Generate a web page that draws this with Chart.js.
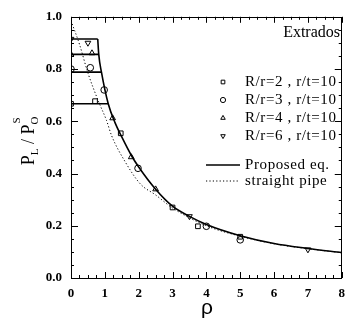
<!DOCTYPE html>
<html>
<head>
<meta charset="utf-8">
<script src="https://cdn.jsdelivr.net/npm/chart.js@4/dist/chart.umd.min.js"></script>
<style>
  html, body { margin: 0; padding: 0; background: #fff; }
  #wrap { width: 353px; height: 332px; position: relative; }
</style>
</head>
<body>
<div id="wrap"><canvas id="chart"></canvas></div>
<script>
// measured points, rho vs P_L / P_O^S
var rhoR2 = [0, 0.71, 1.47, 3.0, 3.75, 5.0];
var valR2 = [0.667, 0.677, 0.554, 0.27, 0.198, 0.158];

var rhoR3 = [0, 0.57, 0.98, 1.98, 4.0, 5.0];
var valR3 = [0.8, 0.805, 0.72, 0.42, 0.198, 0.146];

var rhoR4 = [0, 0.62, 1.23, 1.78, 2.5];
var valR4 = [0.856, 0.861, 0.612, 0.463, 0.34];

var rhoR6 = [0, 0.5, 3.5, 7.0];
var valR6 = [0.915, 0.9, 0.236, 0.109];

// proposed equation: plateaus then falling curve
var plateauLevels = [0.915, 0.856, 0.788, 0.667];
var plateauEnds = [0.79, 0.82, 0.9, 1.1];
var rhoProposed = [0.79, 0.82, 0.9, 1.1, 1.3, 1.5, 1.78, 2.0, 2.5, 3.0, 3.5, 4.0, 5.0, 6.0, 7.0, 8.0];
var valProposed = [0.915, 0.856, 0.788, 0.667, 0.595, 0.54, 0.47, 0.425, 0.34, 0.275, 0.236, 0.205, 0.162, 0.132, 0.113, 0.097];

// straight pipe
var rhoStraight = [0, 0.25, 0.5, 0.8, 1.05, 1.2, 1.6, 2.05, 2.5, 3.0, 4.0, 5.0, 6.0, 7.0, 8.0];
var valStraight = [0.985, 0.895, 0.785, 0.68, 0.603, 0.545, 0.445, 0.36, 0.318, 0.268, 0.2, 0.16, 0.131, 0.112, 0.097];

var xTicks = [0, 1, 2, 3, 4, 5, 6, 7, 8];
var yTicks = [0.0, 0.2, 0.4, 0.6, 0.8, 1.0];

var seriesLabels = ['R/r=2 , r/t=10', 'R/r=3 , r/t=10', 'R/r=4 , r/t=10', 'R/r=6 , r/t=10', 'Proposed eq.', 'straight pipe'];

function pts(xs, ys) {
  return xs.map(function (x, i) { return { x: x, y: ys[i] }; });
}

var SERIF = '"Liberation Serif", "DejaVu Serif", serif';

function marker(label, data, style, rot) {
  return {
    label: label,
    data: data,
    showLine: false,
    pointStyle: style,
    rotation: rot || 0,
    pointRadius: 3.3,
    borderColor: '#000',
    backgroundColor: 'rgba(0,0,0,0)',
    pointBorderWidth: 1,
    legendRadius: 2.6,
    order: 1
  };
}

var datasets = [
  marker(seriesLabels[0], pts(rhoR2, valR2), 'rect'),
  marker(seriesLabels[1], pts(rhoR3, valR3), 'circle'),
  marker(seriesLabels[2], pts(rhoR4, valR4), 'triangle'),
  marker(seriesLabels[3], pts(rhoR6, valR6), 'triangle', 180),
  {
    label: seriesLabels[4],
    data: pts(rhoProposed, valProposed),
    showLine: true,
    borderColor: '#000',
    borderWidth: 1.6,
    pointRadius: 0,
    cubicInterpolationMode: 'monotone',
    order: 2
  },
  {
    label: seriesLabels[5],
    data: pts(rhoStraight, valStraight),
    showLine: true,
    borderColor: '#000',
    borderWidth: 1,
    borderDash: [1.2, 2.2],
    pointRadius: 0,
    cubicInterpolationMode: 'monotone',
    order: 3
  }
];

plateauLevels.forEach(function (lv, i) {
  datasets.push({
    label: '',
    data: pts([0, plateauEnds[i]], [lv, lv]),
    showLine: true,
    borderColor: '#000',
    borderWidth: 1.6,
    pointRadius: 0,
    order: 2
  });
});

var decor = {
  id: 'decor',
  afterDraw: function (chart) {
    var ctx = chart.ctx;
    var a = chart.chartArea;
    var xs = chart.scales.x, ys = chart.scales.y;
    ctx.save();
    ctx.strokeStyle = '#000';
    ctx.lineWidth = 1;
    ctx.strokeRect(Math.round(a.left) + 0.5, Math.round(a.top) + 0.5,
      Math.round(a.right - a.left) - 1, Math.round(a.bottom - a.top));

    // inward ticks on all four sides
    ctx.beginPath();
    var i, p, len;
    for (i = 0; i <= 32; i++) {
      p = Math.round(xs.getPixelForValue(i * 0.25)) + 0.5;
      len = (i % 4 === 0) ? 6 : 3;
      ctx.moveTo(p, a.bottom); ctx.lineTo(p, a.bottom - len);
      ctx.moveTo(p, a.top); ctx.lineTo(p, a.top + len);
    }
    for (i = 0; i <= 20; i++) {
      p = Math.round(ys.getPixelForValue(i * 0.05)) + 0.5;
      len = (i % 4 === 0) ? 7 : 3;
      ctx.moveTo(a.left, p); ctx.lineTo(a.left + len, p);
      ctx.moveTo(a.right, p); ctx.lineTo(a.right - len, p);
    }
    ctx.stroke();

    ctx.fillStyle = '#000';
    // in-plot title
    ctx.font = '16px ' + SERIF;
    ctx.textAlign = 'right';
    ctx.textBaseline = 'middle';
    ctx.fillText('Extrados', 340, 33);

    // legend
    var rowsY = [82, 100, 118, 136, 165, 181];
    ctx.textAlign = 'left';
    ctx.font = '15px ' + SERIF;
    if ('letterSpacing' in ctx) ctx.letterSpacing = '0.6px';
    chart.data.datasets.forEach(function (ds, k) {
      if (!ds.label) return;
      var yy = rowsY[k];
      if (ds.showLine === false) {
        ctx.save();
        ctx.fillStyle = 'rgba(0,0,0,0)';
        ctx.strokeStyle = '#000';
        ctx.lineWidth = 1;
        Chart.helpers.drawPoint(ctx, {
          pointStyle: ds.pointStyle, rotation: ds.rotation,
          radius: ds.legendRadius, borderWidth: 1
        }, 223, yy);
        ctx.restore();
      } else {
        ctx.save();
        ctx.strokeStyle = '#000';
        ctx.lineWidth = ds.borderWidth;
        ctx.setLineDash(ds.borderDash || []);
        ctx.beginPath();
        ctx.moveTo(206, yy); ctx.lineTo(240, yy);
        ctx.stroke();
        ctx.restore();
      }
      ctx.fillText(ds.label, 245, yy);
    });
    if ('letterSpacing' in ctx) ctx.letterSpacing = '0px';

    // x axis title
    ctx.font = '21px "Liberation Sans", Arial, sans-serif';
    ctx.textAlign = 'center';
    ctx.textBaseline = 'alphabetic';
    ctx.fillText('\u03c1', 207, 314);

    // y axis title P_L / P_O^S, rotated
    ctx.translate(27, 141);
    ctx.rotate(-Math.PI / 2);
    var big = '18px ' + SERIF, small = '11px ' + SERIF;
    var parts = [
      { t: 'P', f: big, dy: 0 },
      { t: 'L', f: small, dy: 4 },
      { t: ' / ', f: big, dy: 0 },
      { t: 'P', f: big, dy: 0 },
      { t: 'O', f: small, dy: 4 }
    ];
    var total = 0;
    parts.forEach(function (q) { ctx.font = q.f; q.w = ctx.measureText(q.t).width; total += q.w; });
    var cx = -total / 2;
    ctx.textAlign = 'left';
    ctx.textBaseline = 'alphabetic';
    var oX = 0;
    parts.forEach(function (q) {
      ctx.font = q.f;
      ctx.fillText(q.t, cx, 7 + q.dy);
      if (q.t === 'O') oX = cx;
      cx += q.w;
    });
    ctx.font = small;
    ctx.fillText('S', oX + 1, -7);
    ctx.restore();
  }
};

new Chart(document.getElementById('chart'), {
  type: 'scatter',
  data: { datasets: datasets },
  options: {
    responsive: true,
    maintainAspectRatio: false,
    animation: false,
    layout: { padding: { top: 11, right: 2, left: 0, bottom: 0 } },
    plugins: { legend: { display: false }, tooltip: { enabled: false } },
    scales: {
      x: {
        type: 'linear', min: 0, max: 8,
        afterFit: function (s) { s.height = 54; },
        afterBuildTicks: function (s) { s.ticks = xTicks.map(function (v) { return { value: v }; }); },
        grid: { display: false, drawTicks: false },
        border: { display: false },
        ticks: {
          padding: 8, color: '#000',
          font: { family: SERIF, size: 13, weight: 'bold' },
          callback: function (v) { return String(v); }
        }
      },
      y: {
        type: 'linear', min: 0, max: 1,
        afterFit: function (s) { s.width = 71; },
        afterBuildTicks: function (s) { s.ticks = yTicks.map(function (v) { return { value: v }; }); },
        grid: { display: false, drawTicks: false },
        border: { display: false },
        ticks: {
          padding: 9, color: '#000',
          font: { family: SERIF, size: 13, weight: 'bold' },
          callback: function (v) { return Number(v).toFixed(1); }
        }
      }
    }
  },
  plugins: [decor]
});
</script>
</body>
</html>
